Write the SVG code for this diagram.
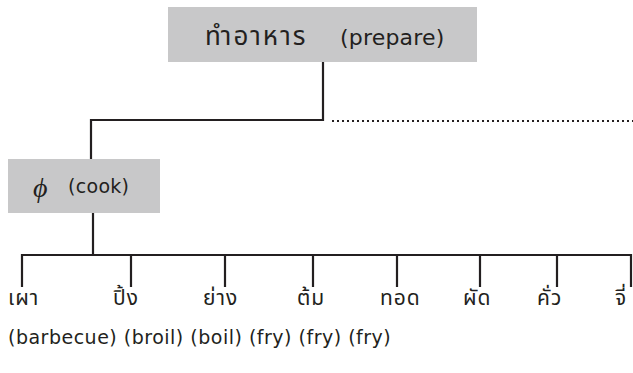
<svg xmlns="http://www.w3.org/2000/svg" width="633" height="373" viewBox="0 0 633 373">
<style>
.box{fill:#c8c8c9;}
.ln{stroke:#231f20;stroke-width:2.2;fill:none;}
.dot{stroke:#231f20;stroke-width:2;stroke-dasharray:2 3;fill:none;}
.t{font-family:"DejaVu Sans","Noto Sans",sans-serif;fill:#231f20;}
.th{font-family:"Noto Sans Thai","Loma","Garuda","Norasi","Noto Sans","DejaVu Sans",sans-serif;fill:#231f20;}
.leaf{font-size:21px;letter-spacing:1px;}
</style>
<rect width="633" height="373" fill="#ffffff"/>
<g id="connectors">
<path class="ln" d="M323 62 V120 H91 V159"/>
<path class="dot" d="M332 121 H633"/>
<path class="ln" d="M93 213 V255"/>
<path class="ln" d="M22 287 V255 H631 V287"/>
<path class="ln" d="M131 255 V287 M225 255 V287 M313 255 V287 M397 255 V287 M480 255 V287 M557 255 V287"/>
</g>
<g id="node-prepare">
<rect class="box" x="168" y="7" width="309" height="55"/>
<text class="th" x="205" y="45" style="font-size:26px;letter-spacing:2px">ทำอาหาร</text>
<text class="t" x="340" y="45" style="font-size:22px;letter-spacing:0.2px">(prepare)</text>
</g>
<g id="node-cook">
<rect class="box" x="8" y="159" width="152" height="54"/>
<text x="33" y="197" font-family="Liberation Serif,serif" font-style="italic" font-size="28" fill="#231f20">ϕ</text>
<text class="t" x="68" y="193" style="font-size:19px;letter-spacing:0.3px">(cook)</text>
</g>
<g id="leaves">
<text class="th leaf" x="8" y="305">เผา</text>
<text class="th leaf" x="113" y="305">ปิ้ง</text>
<text class="th leaf" x="203" y="305">ย่าง</text>
<text class="th leaf" x="297" y="305">ต้ม</text>
<text class="th leaf" x="380" y="305">ทอด</text>
<text class="th leaf" x="463" y="305">ผัด</text>
<text class="th leaf" x="537" y="305">คั่ว</text>
<text class="th leaf" x="615" y="305">จี่</text>
<text class="t" x="8" y="344" style="font-size:19px;letter-spacing:0.5px" xml:space="preserve">(barbecue) (broil) (boil) (fry) (fry) (fry)</text>
</g>
</svg>
